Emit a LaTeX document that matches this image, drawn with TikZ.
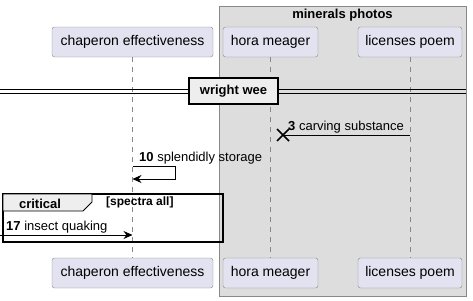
\documentclass[tikz,border=0pt]{standalone}
\usepackage{fontspec}
\setmainfont{Liberation Sans}
\usetikzlibrary{arrows.meta,calc}
\definecolor{partfill}{HTML}{E2E2F0}
\definecolor{partdraw}{HTML}{888888}
\definecolor{boxfill}{HTML}{DDDDDD}
\definecolor{tabfill}{HTML}{EEEEEE}
\begin{document}
\begin{tikzpicture}[x=1pt,y=-1pt,
  participant/.style={draw=partdraw, fill=partfill, rounded corners=2.5pt,
    minimum height=30pt, inner sep=0pt, font=\fontsize{14}{16}\selectfont},
  lifeline/.style={draw=partdraw, dash pattern=on 5pt off 5pt, line width=0.6pt},
  msg/.style={line width=0.8pt, -{Stealth[length=9pt,width=8pt,inset=3pt]}},
  msglabel/.style={anchor=south west, inner sep=1pt, font=\fontsize{13}{15}\selectfont},
  boldtitle/.style={font=\bfseries\fontsize{13}{15}\selectfont, inner sep=0pt}]
\useasboundingbox (0,0) rectangle (473,300);

% box around the two right-hand participants
\draw[draw=partdraw, fill=boxfill] (219,6) rectangle (466,296);
\node[boldtitle] (boxtitle) at (342.5,15) {minerals photos};

% participants, top and bottom
\node[participant, minimum width=161pt] (chT) at (132.5,42) {chaperon effectiveness};
\node[participant, minimum width=95pt] (hoT) at (270.5,42) {hora meager};
\node[participant, minimum width=104pt] (liT) at (410,42) {licenses poem};
\node[participant, minimum width=161pt] (chB) at (132.5,273) {chaperon effectiveness};
\node[participant, minimum width=95pt] (hoB) at (270.5,273) {hora meager};
\node[participant, minimum width=104pt] (liB) at (410,273) {licenses poem};

% lifelines
\draw[lifeline] (chT.south) -- (chB.north);
\draw[lifeline] (hoT.south) -- (hoB.north);
\draw[lifeline] (liT.south) -- (liB.north);

% divider
\draw[line width=0.9pt] (0,89) -- (466,89);
\draw[line width=0.9pt] (0,93) -- (466,93);
\node[draw, line width=1.5pt, fill=tabfill, minimum width=89pt, minimum height=26pt,
  inner sep=0pt, font=\bfseries\fontsize{13}{15}\selectfont] (div) at (233.5,91) {wright wee};

% message 3: lost message ending in a cross
\coordinate (m3s) at (liT.south |- 0,135);
\coordinate (m3e) at (283,135);
\draw[line width=0.8pt] (m3s) -- (m3e);
\draw[line width=1.6pt] ($(m3e)+(-6,-6)$) -- ($(m3e)+(6,6)$)
  ($(m3e)+(-6,6)$) -- ($(m3e)+(6,-6)$);
\node[msglabel] (l3) at (287,134) {\textbf{3} carving substance};

% message 10: self message
\coordinate (m10a) at (chT.south |- 0,166);
\coordinate (m10b) at (chT.south |- 0,179);
\draw[msg] (m10a) -- (175,166) -- (175,179) -- (m10b);
\node[msglabel] (l10) at (138,165) {\textbf{10} splendidly storage};

% critical fragment
\draw[line width=1.5pt] (3,194) rectangle (223,242);
\draw[fill=tabfill, line width=0.8pt] (3,194) -- (92,194) -- (92,202) -- (83,211) -- (3,211) -- cycle;
\node[boldtitle] (crit) at (40,204) {critical};
\node[anchor=west, inner sep=0pt, font=\bfseries\fontsize{12}{14}\selectfont] (guard) at (106,202) {[spectra all]};

% message 17: incoming found message
\coordinate (m17s) at (0,235);
\coordinate (m17e) at (chT.south |- 0,235);
\draw[msg] (m17s) -- (m17e);
\node[msglabel] (l17) at (5,234) {\textbf{17} insect quaking};
\end{tikzpicture}
\end{document}
